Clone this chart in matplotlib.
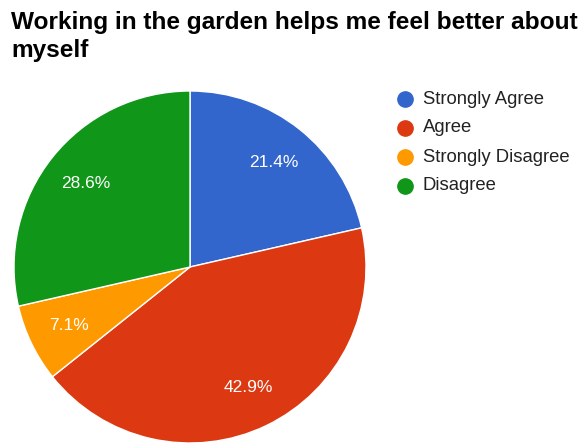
import matplotlib.pyplot as plt
from matplotlib.lines import Line2D

# data
labels = ["Strongly Agree", "Agree", "Strongly Disagree", "Disagree"]
counts = [3, 6, 1, 4]
colors = ["#3366cc", "#dc3912", "#ff9900", "#109618"]
title = "Working in the garden helps me feel better about\nmyself"

W, H = 584, 444
fig = plt.figure(figsize=(W / 100, H / 100), dpi=100)
plt.rcParams['font.family'] = ['Liberation Sans', 'DejaVu Sans']

# pie centre (190, 267) px, radius 176 px
cx, cy, r = 190, 267, 176
ax = fig.add_axes([(cx - r) / W, (H - cy - r) / H, 2 * r / W, 2 * r / H])
wedges, texts, autotexts = ax.pie(
    counts, colors=colors, startangle=90, counterclock=False,
    autopct='%1.1f%%', pctdistance=0.76, radius=1.0,
    wedgeprops=dict(edgecolor='white', linewidth=1),
    textprops=dict(color='white', fontsize=12.5))
ax.set_xlim(-1, 1)
ax.set_ylim(-1, 1)
ax.set_aspect('equal')
ax.axis('off')

fig.text(11 / W, 1 - 11 / H, title, ha='left', va='top', fontsize=17.6,
         fontweight='bold', color='black', linespacing=1.3)

# legend drawn by hand
for i, (lab, col) in enumerate(zip(labels, colors)):
    y = 1 - (99 + 29 * i) / H
    fig.add_artist(Line2D([405 / W], [y], marker='o', markersize=11,
                          color=col, transform=fig.transFigure))
    fig.text(423 / W, y, lab, ha='left', va='center', fontsize=13.3,
             color='#222222')

fig.savefig("out.png", dpi=100)
